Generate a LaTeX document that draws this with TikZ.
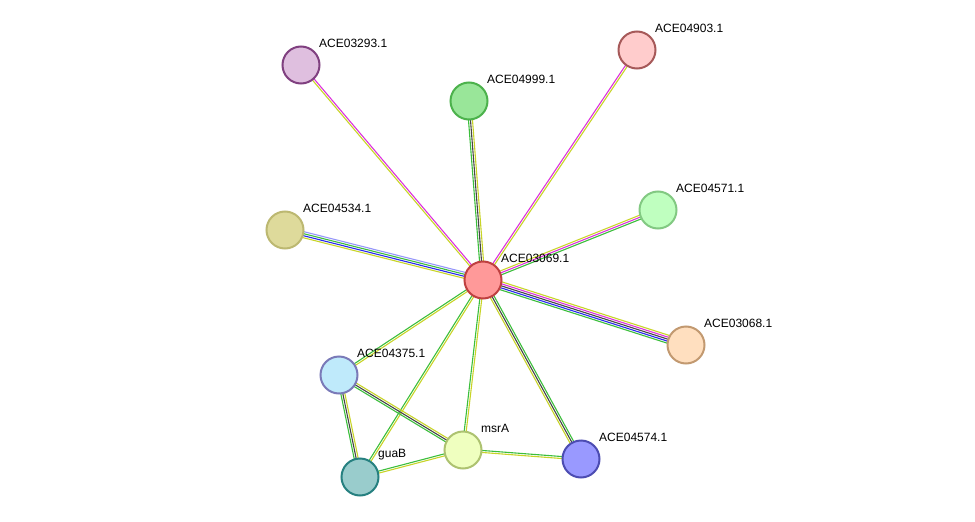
\documentclass[tikz,border=0pt]{standalone}
\usepackage{fontspec}
\setmainfont{Liberation Sans}
\usetikzlibrary{calc}
\definecolor{tmyel}{RGB}{200,212,40}
\definecolor{nbgreen}{RGB}{60,190,60}
\definecolor{exmag}{RGB}{220,50,220}
\definecolor{coblue}{RGB}{40,40,240}
\definecolor{cxblack}{RGB}{70,70,70}
\definecolor{dblue}{RGB}{150,150,250}
\tikzset{
  prot/.style 2 args={circle, minimum size=37pt, inner sep=0pt, line width=2pt, fill=#1, draw=#2},
  plabel/.style={anchor=west, inner sep=0pt, font=\fontsize{12}{14}\selectfont}
}
% multi-coloured edge: from, to, number of lines, colours
\newcommand{\pedge}[4]{%
  \foreach \c [count=\i] in {#4} {
    \draw[\c, line width=1.1pt]
      ($(#1)!{(\i-(#3+1)/2)*2pt}!90:(#2)$) -- ($(#2)!{(\i-(#3+1)/2)*2pt}!-90:(#1)$);
  }}
\begin{document}
\begin{tikzpicture}[x=1pt,y=-1pt]
\useasboundingbox (0,0) rectangle (975,522);
\coordinate (hub) at (483,280);
\coordinate (p3293) at (301,65);
\coordinate (p4999) at (469,101);
\coordinate (p4903) at (637,50);
\coordinate (p4571) at (658,210);
\coordinate (p4534) at (285,230);
\coordinate (p3068) at (686,345);
\coordinate (p4375) at (339,375);
\coordinate (msra) at (463,450);
\coordinate (guab) at (360,477);
\coordinate (p4574) at (581,459);
% edges
\pedge{p3293}{hub}{2}{tmyel,exmag}
\pedge{p4999}{hub}{3}{nbgreen,cxblack,tmyel}
\pedge{p4903}{hub}{2}{exmag,tmyel}
\pedge{p4571}{hub}{3}{tmyel,exmag,nbgreen}
\pedge{p4534}{hub}{4}{tmyel,coblue,nbgreen,dblue}
\pedge{hub}{p3068}{5}{nbgreen,coblue,cxblack,exmag,tmyel}
\pedge{p4375}{hub}{2}{tmyel,nbgreen}
\pedge{guab}{hub}{2}{tmyel,nbgreen}
\pedge{msra}{hub}{2}{tmyel,nbgreen}
\pedge{hub}{p4574}{3}{tmyel,cxblack,nbgreen}
\pedge{p4375}{guab}{3}{nbgreen,cxblack,tmyel}
\pedge{p4375}{msra}{3}{nbgreen,cxblack,tmyel}
\pedge{guab}{msra}{2}{tmyel,nbgreen}
\pedge{msra}{p4574}{2}{tmyel,nbgreen}
% proteins
\node[prot={red!40!white}{red!50!gray}] (nhub) at (hub) {};
\node[prot={violet!25!white}{violet!50!gray}] (n3293) at (p3293) {};
\node[prot={green!60!gray!50!white}{green!40!gray}] (n4999) at (p4999) {};
\node[prot={red!20!white}{red!30!gray}] (n4903) at (p4903) {};
\node[prot={green!25!white}{green!40!gray!70!white}] (n4571) at (p4571) {};
\node[prot={yellow!50!gray!60!white}{yellow!40!gray}] (n4534) at (p4534) {};
\node[prot={orange!25!white}{orange!40!gray!80!white}] (n3068) at (p3068) {};
\node[prot={cyan!25!white}{blue!30!gray!80!white}] (n4375) at (p4375) {};
\node[prot={lime!25!white}{lime!40!gray!80!white}] (nmsra) at (msra) {};
\node[prot={teal!40!white}{teal!70!gray}] (nguab) at (guab) {};
\node[prot={blue!40!white}{blue!40!gray}] (n4574) at (p4574) {};
% labels
\foreach \n/\t in {hub/ACE03069.1, p3293/ACE03293.1, p4999/ACE04999.1,
  p4903/ACE04903.1, p4571/ACE04571.1, p4534/ACE04534.1, p3068/ACE03068.1,
  p4375/ACE04375.1, msra/msrA, guab/guaB, p4574/ACE04574.1}
  \node[plabel] (l\n) at ([shift={(18,-22)}]\n) {\t};
\end{tikzpicture}
\end{document}
